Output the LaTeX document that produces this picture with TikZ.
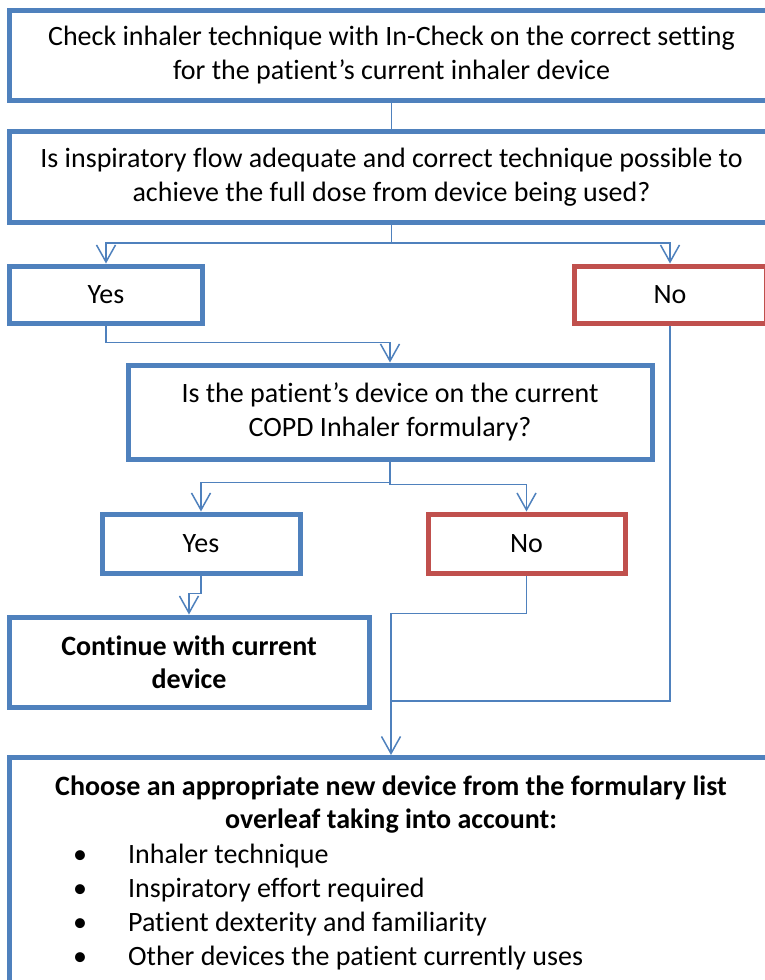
\documentclass[tikz,border=0pt]{standalone}
\usepackage{fontspec}
\setmainfont{Carlito}[Ligatures=NoCommon]
\usetikzlibrary{arrows.meta,positioning}

\definecolor{boxblue}{RGB}{79,129,189}
\definecolor{boxred}{RGB}{192,80,77}

\tikzset{
    flowbox/.style={draw=boxblue,line width=5pt,rectangle,align=center,inner sep=0pt},
    nobox/.style={flowbox,draw=boxred},
    link/.style={draw=boxblue,line width=1.5pt},
    arrowlink/.style={link,-{Straight Barb[length=17pt,width=19pt]}},
}

\begin{document}
\begin{tikzpicture}[x=1pt,y=-1pt,font=\fontsize{28}{34}\selectfont]
        \useasboundingbox (0,0) rectangle (764,980);

        \node[flowbox,minimum width=764pt,minimum height=90pt] (check) at (391.5,55)
            {Check inhaler technique with In-Check on the correct setting\\for the patient’s current inhaler device};
        \node[flowbox,minimum width=764pt,minimum height=91pt] (question) at (391.5,177)
            {Is inspiratory flow adequate and correct technique possible to\\achieve the full dose from device being used?};
        \node[flowbox,minimum width=193pt,minimum height=57pt] (yes) at (106,294.5) {Yes};
        \node[nobox,minimum width=192pt,minimum height=57pt] (no) at (670,294.5) {No};
        \node[flowbox,minimum width=524pt,minimum height=94pt] (formulary) at (390,412)
            {Is the patient’s device on the current\\COPD Inhaler formulary?};
        \node[flowbox,minimum width=198pt,minimum height=59pt] (yestwo) at (201,543.5) {Yes};
        \node[nobox,minimum width=197pt,minimum height=59pt] (notwo) at (526.5,543.5) {No};
        \node[flowbox,minimum width=360pt,minimum height=90pt,font=\fontsize{28}{33}\selectfont\bfseries] (keep) at (189,662)
            {Continue with current\\device};
        \node[flowbox,minimum width=764pt,minimum height=245pt,anchor=north] (choose) at (391,755) {};% runs off the page

        \node[font=\fontsize{28}{33}\selectfont\bfseries,align=center,below=17pt of choose.north] (choosehead)
            {Choose an appropriate new device from the formulary list\\overleaf taking into account:};
        \node[anchor=north west,inner sep=0pt] (factors) at (73,839)
            {\begin{tabular}{@{}l@{\hspace{41pt}}l@{}}
                \textbullet & Inhaler technique\\
                \textbullet & Inspiratory effort required\\
                \textbullet & Patient dexterity and familiarity\\
                \textbullet & Other devices the patient currently uses
            \end{tabular}};

        \coordinate (join) at (391,701);

        \draw[link] (check.south) -- (question.north);
        \draw[arrowlink] (question.south) -- ++(0,18) -| (yes.north);
        \draw[arrowlink] (question.south) -- ++(0,18) -| (no.north);
        \draw[arrowlink] (yes.south) -- ++(0,17) -| (formulary.north);
        \draw[arrowlink] (formulary.south) -- ++(0,21) -| (yestwo.north);
        \draw[arrowlink] (formulary.south) -- ++(0,23) -| (notwo.north);
        \draw[arrowlink] (yestwo.south) -- ++(0,18) -| (keep.north);
        \draw[arrowlink] (notwo.south) -- ++(0,38) -| (choose.north);
        \draw[link] (no.south) |- (join);
\end{tikzpicture}
\end{document}
